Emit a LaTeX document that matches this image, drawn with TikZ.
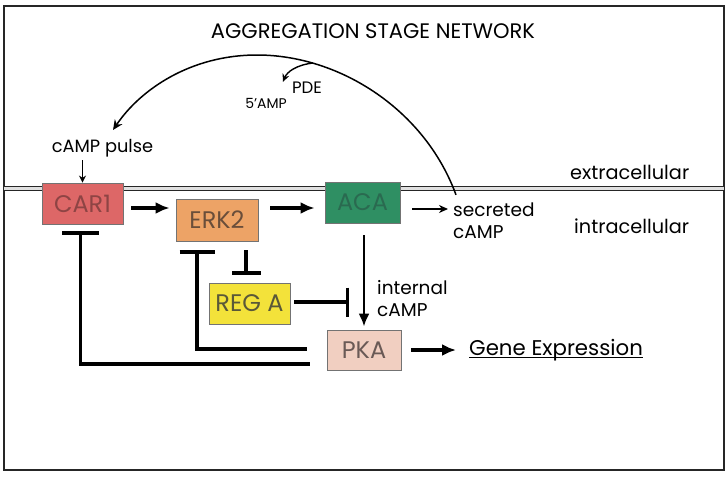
\documentclass[tikz,border=0pt]{standalone}
\usepackage{fontspec}
\setmainfont{Poppins}
\usetikzlibrary{arrows.meta,calc}
\definecolor{carfill}{HTML}{DD6767}
\definecolor{cartext}{HTML}{8E4444}
\definecolor{erkfill}{HTML}{EDA366}
\definecolor{erktext}{HTML}{6A4E3A}
\definecolor{acafill}{HTML}{2F8F63}
\definecolor{acatext}{HTML}{2A6A50}
\definecolor{regfill}{HTML}{F3E23A}
\definecolor{regtext}{HTML}{5A5838}
\definecolor{pkafill}{HTML}{F1CFC1}
\definecolor{pkatext}{HTML}{6A5A56}
\tikzset{
  prot/.style={draw=black!55, line width=0.9pt, inner sep=0pt, font=\fontsize{24}{24}\selectfont},
  bigarr/.style={line width=3.2pt, -{Latex[length=14pt,width=12pt]}},
  thinarr/.style={line width=1.5pt, -{Stealth[length=9pt,width=8pt]}},
  inhib/.style={line width=3.1pt, -{Bar[width=#1]}},
  lab/.style={inner sep=0pt, font=\fontsize{18.5}{18.5}\selectfont},
}
\begin{document}
\begin{tikzpicture}[x=1pt,y=-1pt]
\useasboundingbox (0,0) rectangle (728,479);
\fill[white] (0,0) rectangle (728,479);
\draw[line width=1.3pt, black!85] (4,6) rectangle (724,470);
% membrane
\draw[line width=1pt, double=black!12, double distance=3.6pt, black!85] (4,188.5) -- (724,188.5);

\node[inner sep=0pt, font=\fontsize{21}{21}\selectfont] (title) at (373,31) {AGGREGATION STAGE NETWORK};

% proteins
\node[prot, fill=carfill, text=cartext, minimum width=81pt, minimum height=41pt] (car) at (82.5,203.5) {CAR1};
\node[prot, fill=erkfill, text=erktext, minimum width=82pt, minimum height=42pt] (erk) at (217,220) {ERK2};
\node[prot, fill=acafill, text=acatext, minimum width=75pt, minimum height=41pt] (aca) at (362.5,202.5) {ACA};
\node[prot, fill=regfill, text=regtext, minimum width=81pt, minimum height=41pt] (reg) at (249.5,303.5) {REG A};
\node[prot, fill=pkafill, text=pkatext, minimum width=74pt, minimum height=40pt] (pka) at (364,350) {PKA};

% labels
\node[lab, font=\fontsize{17.8}{17.8}\selectfont] (pulse) at (102.5,148) {cAMP pulse};
\node[lab, anchor=west] (sec) at (453,210) {secreted};
\node[lab, anchor=west] (seccamp) at (453,232) {cAMP};
\node[lab, anchor=west] (intl) at (377,288) {internal};
\node[lab, anchor=west] (intcamp) at (377,310) {cAMP};
\node[lab, anchor=west, font=\fontsize{19.3}{19.3}\selectfont] (extra) at (570,172) {extracellular};
\node[lab, anchor=west, font=\fontsize{19.3}{19.3}\selectfont] (intra) at (574,226) {intracellular};
\node[lab, font=\fontsize{16.6}{16.6}\selectfont] (pde) at (307,88) {PDE};
\node[inner sep=0pt, font=\fontsize{14}{14}\selectfont] (amp) at (266,103) {5'AMP};
\node[inner sep=0pt, anchor=west, font=\fontsize{21.3}{21.3}\selectfont] (gene) at (469,350) {Gene Expression};
\draw[line width=1.4pt] ($(gene.base west)+(0,2)$) -- ($(gene.base east)+(0,2)$);

% activation arrows
\draw[bigarr] ($(car.east)+(8,4.5)$) -- ($(erk.west)+(-6,-12)$);
\draw[bigarr] ($(erk.east)+(12,-12)$) -- ($(aca.west)+(-10,5.5)$);
\draw[line width=2.3pt, -{Latex[length=13pt,width=11pt]}] ($(aca.south)+(1.5,12)$) -- ($(pka.north)+(0,-3)$);
\draw[bigarr] ($(pka.east)+(10,0)$) -- ($(gene.west)+(-13,0)$);
\draw[thinarr] ($(aca.east)+(12,6.5)$) -- ($(sec.west)+(-5,-1)$);
\draw[line width=1.3pt, -{Stealth[length=7pt,width=7pt]}] ($(pulse.south -| car.north)+(0,3)$) -- (car.north);

% inhibitions
\draw[inhib=29pt] ($(reg.east)+(4,-1.5)$) -- ($(reg.east)+(59,-1.5)$);
\draw[inhib=29pt] ($(erk.south)+(29,9)$) -- ($(reg.north)+(-3.5,-8)$);
\draw[inhib=37pt] ($(pka.west)+(-17,14)$) -| ($(car.south)+(-2,7)$);
\draw[inhib=35pt] ($(pka.west)+(-20,-1)$) -| ($(erk.south)+(-20,9)$);

% secreted cAMP loop
\coordinate (arcS) at ($(sec.north west)+(3,-8)$);
\coordinate (arcT) at (257,55);
\coordinate (arcE) at (113,130);
\draw[line width=1.5pt, -{Stealth[length=10pt,width=9pt]}] (arcS) .. controls (425,110) and (340,55) .. (arcT) .. controls (190,55) and (140,90) .. (arcE);
\coordinate (pdeS) at (313,63);
\draw[line width=1.4pt, -{Stealth[length=8pt,width=7pt]}] (pdeS) .. controls (296,65) and (287,72) .. ($(pde.west)+(-9,-6)$);
\end{tikzpicture}
\end{document}
